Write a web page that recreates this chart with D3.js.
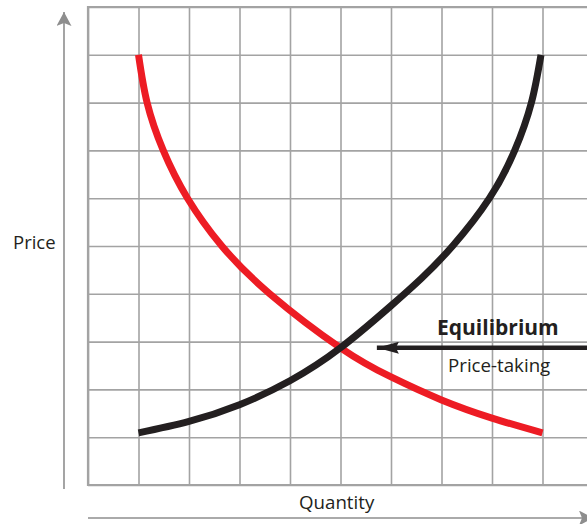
<!DOCTYPE html>
<html>
<head>
<meta charset="utf-8">
<script src="https://cdn.jsdelivr.net/npm/d3@7"></script>
<style>
  body { margin: 0; background: #fff; }
  svg { display: block; }
  text { font-family: "Open Sans", sans-serif; fill: #231f20; }
</style>
</head>
<body>
<script>
// grid units (0..10 on both axes)
var gridTicks = [0, 1, 2, 3, 4, 5, 6, 7, 8, 9, 10];

// demand curve (red)
var demandX = [1, 1.17, 1.49, 1.97, 2.65, 3.6, 5, 6, 7, 8, 9];
var demandY = [9, 8, 7, 6, 5, 4, 2.87, 2.26, 1.78, 1.4, 1.09];

// supply curve (black)
var supplyX = [1, 2, 3, 4, 5, 6, 6.6, 7.22, 7.95, 8.45, 8.78, 8.97];
var supplyY = [1.09, 1.33, 1.68, 2.18, 2.87, 3.75, 4.32, 5, 6, 7, 8, 9];

var eqPrice = 2.87;
var eqArrowX = [10.2, 5.72];

var width = 587, height = 524;

var svg = d3.select('body').append('svg')
	.attr('width', width)
	.attr('height', height);

var x = d3.scaleLinear().domain([0, 10]).range([88, 593]);
var y = d3.scaleLinear().domain([0, 10]).range([485, 7]);

var defs = svg.append('defs');

// grey axis arrowhead
defs.append('marker')
	.attr('id', 'axisHead')
	.attr('viewBox', '0 0 14 15')
	.attr('refX', 14).attr('refY', 7.5)
	.attr('markerWidth', 14).attr('markerHeight', 15)
	.attr('markerUnits', 'userSpaceOnUse')
	.attr('orient', 'auto')
	.append('path')
	.attr('d', 'M14,7.5 L0,0 L3,7.5 L0,15 Z')
	.attr('fill', '#8e8e8e');

// black arrowhead
defs.append('marker')
	.attr('id', 'eqHead')
	.attr('viewBox', '0 0 22 12')
	.attr('refX', 22).attr('refY', 6)
	.attr('markerWidth', 22).attr('markerHeight', 12)
	.attr('markerUnits', 'userSpaceOnUse')
	.attr('orient', 'auto')
	.append('path')
	.attr('d', 'M22,6 L0,0 L3,6 L0,12 Z')
	.attr('fill', '#231f20');

// grid
var grid = svg.append('g').attr('class', 'grid');

grid.append('g')
	.attr('transform', 'translate(0,' + y(0) + ')')
	.call(d3.axisBottom(x).tickValues(gridTicks).tickSize(-(y(0) - y(10))).tickFormat(''));

grid.append('g')
	.attr('transform', 'translate(' + x(0) + ',0)')
	.call(d3.axisLeft(y).tickValues(gridTicks).tickSize(-(x(10) - x(0))).tickFormat(''));

grid.selectAll('.domain').remove();
grid.selectAll('.tick line')
	.attr('stroke', '#a3a3a3')
	.attr('stroke-width', 1.6);

// frame edges a bit heavier
grid.append('path')
	.attr('d', 'M' + x(10) + ',' + y(10) + 'H' + x(0) + 'V' + y(0) + 'H' + x(10))
	.attr('fill', 'none')
	.attr('stroke', '#a3a3a3')
	.attr('stroke-width', 2.2);

// axis arrows
svg.append('line')
	.attr('x1', 64).attr('y1', y(0) + 4)
	.attr('x2', 64).attr('y2', 12)
	.attr('stroke', '#8e8e8e').attr('stroke-width', 1.6)
	.attr('marker-end', 'url(#axisHead)');

svg.append('line')
	.attr('x1', x(0)).attr('y1', 518)
	.attr('x2', x(10)).attr('y2', 518)
	.attr('stroke', '#8e8e8e').attr('stroke-width', 1.6)
	.attr('marker-end', 'url(#axisHead)');

// curves
var line = d3.line()
	.x(function(d) { return x(d[0]); })
	.y(function(d) { return y(d[1]); })
	.curve(d3.curveNatural);

svg.append('path')
	.datum(d3.zip(demandX, demandY))
	.attr('d', line)
	.attr('fill', 'none')
	.attr('stroke', '#ed1c24')
	.attr('stroke-width', 7);

svg.append('path')
	.datum(d3.zip(supplyX, supplyY))
	.attr('d', line)
	.attr('fill', 'none')
	.attr('stroke', '#231f20')
	.attr('stroke-width', 7);

// equilibrium arrow
svg.append('line')
	.attr('x1', x(eqArrowX[0])).attr('y1', y(eqPrice))
	.attr('x2', x(eqArrowX[1])).attr('y2', y(eqPrice))
	.attr('stroke', '#231f20').attr('stroke-width', 4.5)
	.attr('marker-end', 'url(#eqHead)');

svg.append('text')
	.attr('x', 437).attr('y', 335)
	.style('font-weight', 'bold')
	.style('font-size', '21px')
	.text('Equilibrium');

svg.append('text')
	.attr('x', 448).attr('y', 372)
	.style('font-size', '18.7px')
	.text('Price-taking');

// axis labels
svg.append('text')
	.attr('x', 13).attr('y', 249)
	.style('font-size', '18.5px')
	.text('Price');

svg.append('text')
	.attr('x', 299).attr('y', 509)
	.style('font-size', '18.7px')
	.text('Quantity');
</script>
</body>
</html>
